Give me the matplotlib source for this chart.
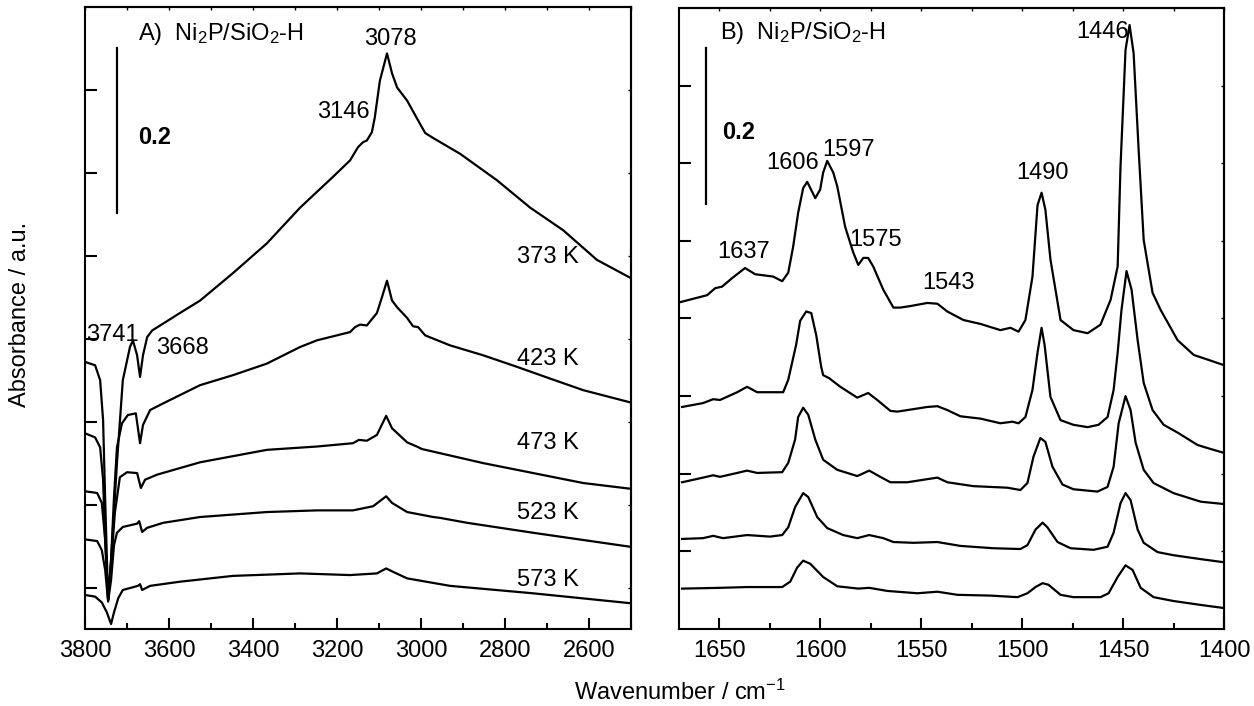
import matplotlib

matplotlib.use("Agg")
import matplotlib.pyplot as plt
from matplotlib.ticker import MultipleLocator

plt.rcParams["font.family"] = ["Liberation Sans", "DejaVu Sans"]
plt.rcParams["mathtext.default"] = "regular"

# ---- panel A: OH / CH stretching region ----
wn_a_373 = [3800, 3776, 3764, 3757, 3752, 3745, 3738, 3724, 3710, 3693, 3686, 3676, 3669, 3662, 3652, 3640,
            3621, 3574, 3526, 3448, 3367, 3288, 3248, 3210, 3169, 3150, 3138, 3129, 3117, 3110, 3098, 3081,
            3069, 3057, 3033, 3010, 2990, 2971, 2907, 2819, 2740, 2662, 2581, 2500]
abs_a_373 = [0.272, 0.268, 0.250, 0.202, 0.105, -0.015, 0.033, 0.150, 0.250, 0.290, 0.298, 0.280, 0.254, 0.280,
             0.302, 0.310, 0.316, 0.331, 0.346, 0.379, 0.415, 0.458, 0.477, 0.495, 0.515, 0.531, 0.537, 0.539,
             0.549, 0.567, 0.611, 0.644, 0.620, 0.603, 0.587, 0.566, 0.548, 0.542, 0.523, 0.491, 0.458, 0.431,
             0.395, 0.373]

wn_a_423 = [3800, 3776, 3764, 3757, 3752, 3745, 3738, 3731, 3724, 3712, 3698, 3679, 3669, 3662, 3645, 3614,
            3526, 3448, 3367, 3288, 3248, 3169, 3157, 3145, 3129, 3105, 3093, 3081, 3069, 3057, 3033, 3019,
            3007, 2990, 2931, 2852, 2771, 2693, 2614, 2500]
abs_a_423 = [0.186, 0.181, 0.169, 0.130, 0.057, -0.015, 0.033, 0.109, 0.169, 0.198, 0.208, 0.210, 0.174, 0.196,
             0.214, 0.222, 0.244, 0.256, 0.270, 0.290, 0.298, 0.308, 0.314, 0.317, 0.316, 0.331, 0.350, 0.370,
             0.346, 0.338, 0.325, 0.315, 0.314, 0.304, 0.292, 0.280, 0.266, 0.252, 0.238, 0.223]

wn_a_473 = [3800, 3771, 3760, 3752, 3745, 3738, 3729, 3717, 3700, 3676, 3667, 3657, 3629, 3526, 3367, 3248,
            3162, 3148, 3129, 3105, 3083, 3069, 3033, 3010, 2998, 2955, 2852, 2733, 2614, 2500]
abs_a_473 = [0.116, 0.114, 0.102, 0.057, -0.015, 0.027, 0.090, 0.133, 0.139, 0.138, 0.120, 0.130, 0.136, 0.151,
             0.166, 0.170, 0.174, 0.178, 0.177, 0.184, 0.207, 0.192, 0.175, 0.170, 0.167, 0.162, 0.150, 0.138,
             0.126, 0.119]

wn_a_523 = [3800, 3771, 3760, 3752, 3745, 3738, 3731, 3724, 3710, 3676, 3671, 3664, 3652, 3614, 3526, 3367,
            3248, 3162, 3114, 3083, 3069, 3033, 2971, 2955, 2890, 2733, 2500]
abs_a_523 = [0.058, 0.056, 0.045, 0.021, -0.017, 0.009, 0.051, 0.066, 0.073, 0.077, 0.080, 0.067, 0.072, 0.078,
             0.085, 0.091, 0.093, 0.093, 0.098, 0.110, 0.102, 0.091, 0.085, 0.084, 0.078, 0.066, 0.049]

wn_a_573 = [3800, 3776, 3760, 3748, 3738, 3731, 3721, 3710, 3674, 3669, 3664, 3645, 3574, 3448, 3288, 3169,
            3105, 3083, 3067, 3033, 2931, 2733, 2500]
abs_a_573 = [-0.009, -0.011, -0.018, -0.030, -0.044, -0.030, -0.013, -0.003, 0.002, 0.004, -0.003, 0.002,
             0.007, 0.014, 0.017, 0.015, 0.017, 0.023, 0.019, 0.011, 0.002, -0.007, -0.019]

temps_a = ["373 K", "423 K", "473 K", "523 K", "573 K"]
temp_label_y = [0.398, 0.276, 0.174, 0.090, 0.009]
peaks_a = ["3741", "3668", "3146", "3078"]
peaks_a_pos = [(3736, 0.304), (3567, 0.289), (3186, 0.573), (3074, 0.661)]

# ---- panel B: ring vibration region ----
wn_b_373 = [1669.5, 1656.1, 1652.1, 1648.7, 1643.7, 1637.3, 1632.3, 1623.4, 1618.9, 1615.9, 1613.5, 1611.0,
            1608.5, 1606.5, 1602.5, 1600.1, 1598.6, 1596.6, 1593.6, 1591.6, 1587.7, 1583.7, 1581.2, 1578.7,
            1576.3, 1573.8, 1568.8, 1563.8, 1560.4, 1555.4, 1547.0, 1542.0, 1537.1, 1529.1, 1520.7, 1510.8,
            1505.8, 1501.8, 1498.4, 1494.9, 1492.4, 1490.4, 1488.5, 1486.0, 1481.0, 1474.6, 1467.6, 1461.2,
            1456.2, 1452.7, 1451.3, 1448.8, 1446.8, 1444.8, 1442.3, 1439.8, 1435.4, 1431.4, 1423.0, 1415.0,
            1408.1, 1400.2]
abs_b_373 = [0.321, 0.330, 0.339, 0.341, 0.352, 0.365, 0.357, 0.354, 0.348, 0.359, 0.392, 0.436, 0.468, 0.476,
             0.455, 0.466, 0.488, 0.503, 0.488, 0.470, 0.418, 0.385, 0.369, 0.378, 0.378, 0.367, 0.337, 0.314,
             0.314, 0.316, 0.320, 0.319, 0.309, 0.298, 0.293, 0.285, 0.288, 0.283, 0.298, 0.354, 0.446, 0.462,
             0.440, 0.376, 0.298, 0.285, 0.281, 0.292, 0.324, 0.367, 0.495, 0.646, 0.678, 0.642, 0.517, 0.401,
             0.333, 0.311, 0.272, 0.253, 0.247, 0.240]

wn_b_423 = [1668.5, 1658.1, 1653.1, 1649.7, 1641.2, 1636.3, 1631.3, 1624.9, 1618.4, 1615.9, 1612.0, 1610.0,
            1607.0, 1604.5, 1602.0, 1599.6, 1598.6, 1595.6, 1590.1, 1581.7, 1576.3, 1571.8, 1565.3, 1561.9,
            1556.9, 1547.0, 1542.0, 1537.1, 1530.6, 1520.7, 1510.8, 1504.8, 1501.8, 1498.4, 1494.9, 1492.4,
            1490.4, 1488.9, 1486.0, 1481.0, 1474.6, 1467.6, 1462.2, 1457.7, 1454.7, 1452.7, 1450.8, 1448.3,
            1445.8, 1442.8, 1439.8, 1435.4, 1429.9, 1423.0, 1413.1, 1408.1, 1400.2]
abs_b_423 = [0.186, 0.191, 0.196, 0.195, 0.205, 0.212, 0.205, 0.205, 0.205, 0.221, 0.266, 0.297, 0.309, 0.307,
             0.278, 0.238, 0.227, 0.223, 0.212, 0.198, 0.204, 0.195, 0.181, 0.180, 0.182, 0.186, 0.187, 0.182,
             0.174, 0.171, 0.165, 0.167, 0.165, 0.173, 0.208, 0.256, 0.288, 0.266, 0.199, 0.169, 0.163, 0.160,
             0.163, 0.173, 0.208, 0.256, 0.311, 0.361, 0.337, 0.272, 0.217, 0.182, 0.163, 0.153, 0.137, 0.133,
             0.127]

wn_b_473 = [1668.5, 1658.1, 1653.1, 1649.7, 1641.2, 1636.3, 1631.3, 1618.9, 1615.9, 1612.5, 1611.0, 1608.5,
            1606.0, 1602.5, 1598.6, 1591.6, 1581.7, 1575.8, 1570.3, 1565.3, 1556.9, 1542.0, 1537.1, 1524.2,
            1507.3, 1500.9, 1497.4, 1494.4, 1491.0, 1488.5, 1485.0, 1480.0, 1474.6, 1462.7, 1457.7, 1454.7,
            1452.2, 1448.8, 1446.3, 1443.8, 1439.8, 1434.9, 1425.0, 1411.6, 1400.2]
abs_b_473 = [0.089, 0.095, 0.098, 0.096, 0.101, 0.104, 0.101, 0.102, 0.114, 0.144, 0.173, 0.185, 0.176, 0.144,
             0.118, 0.105, 0.097, 0.104, 0.096, 0.089, 0.089, 0.095, 0.089, 0.084, 0.082, 0.079, 0.088, 0.122,
             0.146, 0.141, 0.109, 0.086, 0.080, 0.077, 0.083, 0.109, 0.165, 0.200, 0.182, 0.140, 0.105, 0.088,
             0.075, 0.064, 0.061]

wn_b_523 = [1668.5, 1658.1, 1653.1, 1648.2, 1636.3, 1624.9, 1618.9, 1615.9, 1612.5, 1608.5, 1606.0, 1601.5,
            1596.6, 1588.7, 1581.7, 1575.8, 1568.8, 1563.8, 1553.9, 1542.0, 1530.6, 1514.2, 1500.9, 1497.4,
            1493.4, 1489.9, 1487.5, 1482.5, 1476.0, 1464.6, 1457.7, 1454.7, 1451.3, 1448.8, 1446.3, 1442.8,
            1439.8, 1432.9, 1425.0, 1411.6, 1400.2]
abs_b_523 = [0.016, 0.017, 0.020, 0.017, 0.021, 0.019, 0.021, 0.031, 0.057, 0.075, 0.070, 0.044, 0.030, 0.021,
             0.017, 0.021, 0.017, 0.012, 0.011, 0.012, 0.007, 0.004, 0.003, 0.008, 0.028, 0.037, 0.031, 0.012,
             0.004, 0.002, 0.006, 0.024, 0.062, 0.075, 0.066, 0.028, 0.011, -0.001, -0.005, -0.010, -0.014]

wn_b_573 = [1668.5, 1649.7, 1636.3, 1618.9, 1614.9, 1611.5, 1608.5, 1605.0, 1598.6, 1591.6, 1581.2, 1575.8,
            1566.8, 1551.9, 1542.0, 1532.1, 1515.7, 1502.3, 1497.4, 1493.4, 1489.9, 1487.0, 1481.0, 1474.6,
            1461.2, 1457.2, 1452.7, 1448.8, 1445.3, 1441.3, 1434.9, 1425.0, 1411.6, 1400.2]
abs_b_573 = [-0.048, -0.047, -0.046, -0.046, -0.039, -0.021, -0.012, -0.016, -0.033, -0.045, -0.048, -0.047,
             -0.051, -0.054, -0.052, -0.056, -0.057, -0.059, -0.054, -0.046, -0.041, -0.043, -0.056, -0.059,
             -0.059, -0.054, -0.033, -0.018, -0.024, -0.047, -0.059, -0.064, -0.069, -0.073]

peaks_b = ["1637", "1606", "1597", "1575", "1543", "1490", "1446"]
peaks_b_pos = [(1638, 0.385), (1613.5, 0.500), (1586, 0.517), (1572.8, 0.401), (1536.6, 0.346),
               (1490, 0.488), (1460, 0.669)]

FS = 17
LW = 1.6


def style_axes(ax, xmajor, xminor):
    """inward ticks; long ones bottom/left, short ones top/right"""
    for sp in ax.spines.values():
        sp.set_linewidth(1.5)
    ax.xaxis.set_major_locator(MultipleLocator(xmajor))
    ax.xaxis.set_minor_locator(MultipleLocator(xminor))
    ax.set_yticks([0, 0.1, 0.2, 0.3, 0.4, 0.5, 0.6])
    ax.set_yticklabels([])
    ax.tick_params(axis="x", which="major", direction="in", length=8, width=1.5, labelsize=FS, pad=8)
    ax.tick_params(axis="x", which="minor", direction="in", length=4.5, width=1.5)
    ax.tick_params(axis="y", which="major", direction="in", length=8.5, width=1.5)

    top = ax.secondary_xaxis("top")
    top.set_xticks(list(range(0, 4000, xminor)))
    top.tick_params(direction="in", length=2.5, width=1, labeltop=False)
    top.spines["top"].set_linewidth(1.5)
    right = ax.secondary_yaxis("right")
    right.set_yticks([0, 0.1, 0.2, 0.3, 0.4, 0.5, 0.6])
    right.tick_params(direction="in", length=2.5, width=1, labelright=False)
    right.spines["right"].set_linewidth(1.5)


fig = plt.figure(figsize=(12.54, 7.06), dpi=100)
ax_a = fig.add_axes([0.0678, 0.1091, 0.4354, 0.881])
ax_b = fig.add_axes([0.5415, 0.1091, 0.4346, 0.8796])

# panel A
for wn, ab in [(wn_a_373, abs_a_373), (wn_a_423, abs_a_423), (wn_a_473, abs_a_473),
               (wn_a_523, abs_a_523), (wn_a_573, abs_a_573)]:
    ax_a.plot(wn, ab, color="black", lw=LW)
ax_a.set_xlim(3800, 2500)
ax_a.set_ylim(-0.05, 0.70)
style_axes(ax_a, 200, 100)

ax_a.plot([3724, 3724], [0.451, 0.651], color="black", lw=1.6)
ax_a.text(3674, 0.543, "0.2", fontsize=FS, fontweight="bold", va="center", ha="left")
ax_a.text(3674, 0.668, r"A)  Ni$_{2}$P/SiO$_{2}$-H", fontsize=FS, va="center", ha="left")
for name, yy in zip(temps_a, temp_label_y):
    ax_a.text(2698, yy, name, fontsize=FS, ha="center", va="center")
for name, (xx, yy) in zip(peaks_a, peaks_a_pos):
    ax_a.text(xx, yy, name, fontsize=FS, ha="center", va="center")

# panel B
for wn, ab in [(wn_b_373, abs_b_373), (wn_b_423, abs_b_423), (wn_b_473, abs_b_473),
               (wn_b_523, abs_b_523), (wn_b_573, abs_b_573)]:
    ax_b.plot(wn, ab, color="black", lw=LW)
ax_b.set_xlim(1670, 1400)
ax_b.set_ylim(-0.10, 0.70)
style_axes(ax_b, 50, 25)

ax_b.plot([1656.6, 1656.6], [0.448, 0.649], color="black", lw=1.6)
ax_b.text(1648.7, 0.539, "0.2", fontsize=FS, fontweight="bold", va="center", ha="left")
ax_b.text(1649.7, 0.668, r"B)  Ni$_{2}$P/SiO$_{2}$-H", fontsize=FS, va="center", ha="left")
for name, (xx, yy) in zip(peaks_b, peaks_b_pos):
    ax_b.text(xx, yy, name, fontsize=FS, ha="center", va="center")

fig.text(0.016, 0.554, "Absorbance / a.u.", fontsize=FS, rotation=90, ha="center", va="center")
fig.text(0.542, 0.020, r"Wavenumber / cm$^{-1}$", fontsize=FS, ha="center", va="center")

fig.savefig("out.png", dpi=100)
